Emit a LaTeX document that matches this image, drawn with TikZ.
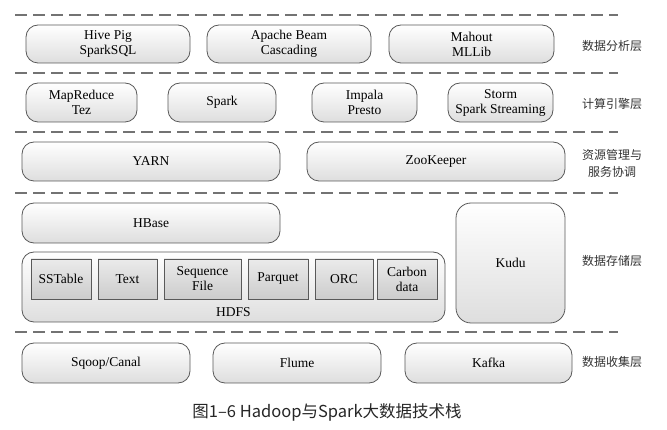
\documentclass[tikz,border=0pt]{standalone}
\usepackage{fontspec}
\setmainfont{Liberation Serif}
\newfontfamily\cjk{Noto Sans CJK SC}
\begin{document}
\begin{tikzpicture}[x=1pt,y=-1pt,
  box/.style={draw=black!65, line width=0.8pt, rounded corners=12pt, top color=white, bottom color=black!13, align=center, inner sep=0pt, font=\fontsize{13.5}{15}\selectfont},
  fmt/.style={draw=black!65, line width=0.8pt, top color=black!8, bottom color=black!20, align=center, inner sep=0pt, font=\fontsize{13.5}{15}\selectfont},
  sep/.style={draw=black!55, line width=1.6pt, dash pattern=on 12pt off 6pt},
  layer/.style={font=\cjk\fontsize{12}{17}\selectfont, text=black!80, align=center},
  txt/.style={font=\fontsize{13.5}{15}\selectfont}
]
\useasboundingbox (0,0) rectangle (667,430);
% separators
\foreach \y/\n in {15/s1,73/s2,132/s3,193/s4,332/s5}{
  \coordinate (\n l) at (15,\y);
  \coordinate (\n r) at (618,\y);
  \draw[sep] (\n l) -- (\n r);
}
% row 1
\node[box, minimum width=164, minimum height=38] (hive) at (108,44) {Hive Pig\\SparkSQL};
\node[box, minimum width=164, minimum height=38] (beam) at (289,44) {Apache Beam\\Cascading};
\node[box, minimum width=165, minimum height=38] (mahout) at (471.5,44) {Mahout\\MLLib};
% row 2
\node[box, minimum width=111, minimum height=39] (mr) at (81.5,102.5) {MapReduce\\Tez};
\node[box, minimum width=108, minimum height=39] (spark) at (222,102.5) {Spark};
\node[box, minimum width=105, minimum height=39] (impala) at (364.5,102.5) {Impala\\Presto};
\node[box, minimum width=105, minimum height=39] (storm) at (500.5,102.5) {Storm\\Spark Streaming};
% row 3
\node[box, minimum width=258, minimum height=39] (yarn) at (151,161.5) {YARN};
\node[box, minimum width=258, minimum height=39] (zk) at (436,161.5) {ZooKeeper};
% row 4
\node[box, minimum width=258, minimum height=40] (hbase) at (151,223) {HBase};
\node[box, minimum width=423, minimum height=70] (hdfs) at (233.5,287) {};
\node[txt] (hdfslabel) at (233.5,312) {HDFS};
\node[fmt, minimum width=60, minimum height=40] (sst) at (61,279) {SSTable};
\node[fmt, minimum width=59, minimum height=40] (text) at (127.5,279) {Text};
\node[fmt, minimum width=77, minimum height=40] (seq) at (202.5,279) {Sequence\\File};
\node[fmt, minimum width=60, minimum height=40] (parq) at (278,279) {Parquet};
\node[fmt, minimum width=58, minimum height=40] (orc) at (344,279) {ORC};
\node[fmt, minimum width=60, minimum height=40] (carbon) at (407,279) {Carbon\\data};
\node[box, rounded corners=15pt, minimum width=109, minimum height=120] (kudu) at (510.5,263) {Kudu};
% row 5
\node[box, minimum width=168, minimum height=40] (sqoop) at (106,363) {Sqoop/Canal};
\node[box, minimum width=168, minimum height=40] (flume) at (297,363) {Flume};
\node[box, minimum width=167, minimum height=40] (kafka) at (488.5,363) {Kafka};
% layer labels
\node[layer] (l1) at (612,46) {数据分析层};
\node[layer] (l2) at (612,104) {计算引擎层};
\node[layer] (l3) at (612,163) {资源管理与\\服务协调};
\node[layer] (l4) at (612,261) {数据存储层};
\node[layer] (l5) at (612,362) {数据收集层};
% caption
\node[font=\cjk\fontsize{16.5}{18}\selectfont, text=black!85] (cap) at (327,412) {图1–6 Hadoop与Spark大数据技术栈};
\end{tikzpicture}
\end{document}
